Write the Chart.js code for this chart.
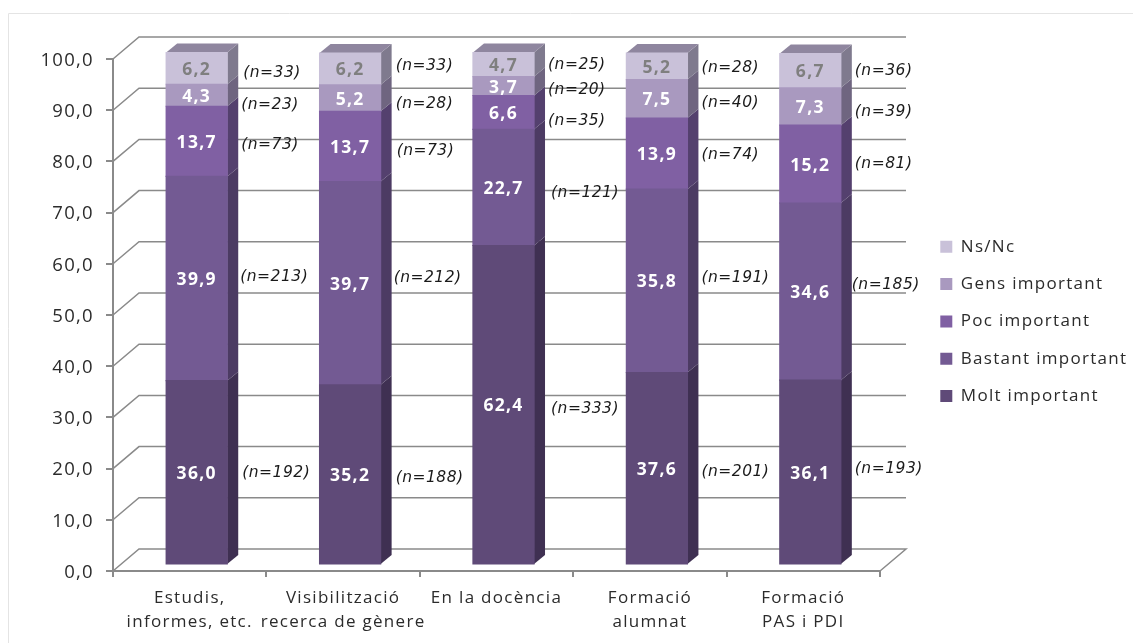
<!DOCTYPE html>
<html lang="ca">
<head>
<meta charset="utf-8">
<title>Importància per àmbit</title>
<script src="https://cdn.jsdelivr.net/npm/chart.js@4"></script>
<style>
  html, body { margin: 0; padding: 0; background: #fff; }
  #wrap { position: relative; width: 1133px; height: 643px; }
  canvas { display: block; }
</style>
</head>
<body>
<div id="wrap"><canvas id="chart" width="1133" height="643"></canvas></div>
<script>
// Response categories along the axis (line breaks as tick lines)
const categories = [
  ['Estudis,', 'informes, etc.'],
  ['Visibilització', 'recerca de gènere'],
  'En la docència',
  ['Formació', 'alumnat'],
  ['Formació', 'PAS i PDI']
];

// Percentages per answer
const moltImportant = [36.0, 35.2, 62.4, 37.6, 36.1];
const bastantImportant = [39.9, 39.7, 22.7, 35.8, 34.6];
const pocImportant = [13.7, 13.7, 6.6, 13.9, 15.2];
const gensImportant = [4.3, 5.2, 3.7, 7.5, 7.3];
const nsNc = [6.2, 6.2, 4.7, 5.2, 6.7];

// Respondent counts per answer
const nMolt = [192, 188, 333, 201, 193];
const nBastant = [213, 212, 121, 191, 185];
const nPoc = [73, 73, 35, 74, 81];
const nGens = [23, 28, 20, 40, 39];
const nNsNc = [33, 33, 25, 28, 36];

// Axis ticks
const yMin = 0;
const yMax = 100;
const yStep = 10;

// Hand placement of the (n=..) notes: shift from the segment's right edge / centre
const noteDx = [
  [15, 13, 14, 14, 16], [15, 13, 16, 15, 15], [17, 17, 14, 14, 14],
  [14, 14, 14, 14, 14], [14, 11, 14, 14, 14]
];
const noteDy = [
  [-1, -3, 2, 8, 3], [2, -7, 3, 4, -4], [3, 4, 7, 2, -1],
  [2, -4, 0, 3, 0], [-5, -8, -2, 4, -1]
];

// Series styling: front, side and value-label colours
const palette = [
  { front: '#5f4a78', side: '#3f3052', label: '#ffffff' },
  { front: '#735a93', side: '#4c3b63', label: '#ffffff' },
  { front: '#8060a3', side: '#54406e', label: '#ffffff' },
  { front: '#a999bf', side: '#6f6580', label: '#ffffff' },
  { front: '#c9c1d9', side: '#7f7a8e', label: '#7f7f7f' }
];
const topFace = '#8f869f';
const axisGrey = '#8a8a8a';
const textGrey = '#2b2b2b';

// Oblique projection: back wall shift and bar placement inside the depth
const wall = { dx: 26, dy: -22 };
const barShift = { dx: 7, dy: -6 };
const barDepth = { dx: 11, dy: -9 };

const BASE_FONT = '"Open Sans", sans-serif';
const TRACKING = '1.3px';

const seriesNames = ['Molt important', 'Bastant important', 'Poc important', 'Gens important', 'Ns/Nc'];
const seriesValues = [moltImportant, bastantImportant, pocImportant, gensImportant, nsNc];
const seriesCounts = [nMolt, nBastant, nPoc, nGens, nNsNc];

const frame3d = {
  id: 'frame3d',
  beforeUpdate(chart) { chart.ctx.letterSpacing = TRACKING; },
  beforeDraw(chart) {
    const { ctx, chartArea: a, scales: { y } } = chart;
    ctx.letterSpacing = TRACKING;
    ctx.save();
    // Outer chart frame, visible along the top and left only
    ctx.strokeStyle = '#e4e4e4';
    ctx.lineWidth = 1;
    ctx.beginPath();
    ctx.moveTo(8.5, 643);
    ctx.lineTo(8.5, 13.5);
    ctx.lineTo(1133, 13.5);
    ctx.stroke();
    // Side-wall diagonals and back-wall gridlines at each tick
    ctx.strokeStyle = axisGrey;
    ctx.lineWidth = 1.5;
    y.ticks.forEach(t => {
      const py = y.getPixelForValue(t.value);
      ctx.beginPath();
      ctx.moveTo(a.left, py);
      ctx.lineTo(a.left + wall.dx, py + wall.dy);
      ctx.lineTo(a.right + wall.dx, py + wall.dy);
      if (t.value === yMin) ctx.lineTo(a.right, py);
      ctx.stroke();
    });
    ctx.restore();
  },
  beforeDatasetsDraw(chart) {
    const { ctx } = chart;
    ctx.save();
    ctx.translate(barShift.dx, barShift.dy);
    // Side faces of each stacked segment, and the cap on the top one
    chart.data.datasets.forEach((ds, d) => {
      chart.getDatasetMeta(d).data.forEach(bar => {
        const r = bar.x + bar.width / 2;
        ctx.fillStyle = palette[d].side;
        ctx.beginPath();
        ctx.moveTo(r, bar.base);
        ctx.lineTo(r + barDepth.dx, bar.base + barDepth.dy);
        ctx.lineTo(r + barDepth.dx, bar.y + barDepth.dy);
        ctx.lineTo(r, bar.y);
        ctx.closePath();
        ctx.fill();
        if (d === chart.data.datasets.length - 1) {
          const l = bar.x - bar.width / 2;
          ctx.fillStyle = topFace;
          ctx.beginPath();
          ctx.moveTo(l, bar.y);
          ctx.lineTo(l + barDepth.dx, bar.y + barDepth.dy);
          ctx.lineTo(r + barDepth.dx, bar.y + barDepth.dy);
          ctx.lineTo(r, bar.y);
          ctx.closePath();
          ctx.fill();
        }
      });
    });
  },
  afterDatasetsDraw(chart) {
    const { ctx } = chart;
    // Value labels centred on each segment
    chart.data.datasets.forEach((ds, d) => {
      chart.getDatasetMeta(d).data.forEach((bar, i) => {
        ctx.font = 'bold 17.5px ' + BASE_FONT;
        ctx.textAlign = 'center';
        ctx.textBaseline = 'middle';
        ctx.fillStyle = palette[d].label;
        ctx.fillText(ds.data[i].toFixed(1).replace('.', ','), bar.x, (bar.y + bar.base) / 2 + 1.5);
      });
    });
    ctx.restore();
    // Respondent counts beside the bars, drawn over the gridlines
    ctx.save();
    ctx.translate(barShift.dx, barShift.dy);
    chart.data.datasets.forEach((ds, d) => {
      chart.getDatasetMeta(d).data.forEach((bar, i) => {
        ctx.font = 'italic 15.5px "DejaVu Sans", sans-serif';
        ctx.letterSpacing = '0.5px';
        ctx.textAlign = 'left';
        ctx.textBaseline = 'middle';
        ctx.fillStyle = '#1a1a1a';
        const cy = (bar.y + bar.base) / 2 + 1.5;
        ctx.fillText('(n=' + seriesCounts[d][i] + ')', bar.x + bar.width / 2 + noteDx[i][d], cy + noteDy[i][d]);
      });
    });
    ctx.restore();
    ctx.letterSpacing = TRACKING;
  },
  afterLayout(chart) {
    // Legend sits to the right of the depth, vertically centred on the plot
    const legend = chart.legend;
    const w = legend.width, h = legend.height;
    legend.left = 920;
    legend.right = 920 + w;
    legend.top = 218;
    legend.bottom = 218 + h;
  }
};

new Chart(document.getElementById('chart'), {
  type: 'bar',
  data: {
    labels: categories,
    datasets: seriesNames.map((name, d) => ({
      label: name,
      data: seriesValues[d],
      backgroundColor: palette[d].front,
      borderWidth: 0,
      inflateAmount: 0.6,
      stack: 'answers',
      clip: false
    }))
  },
  options: {
    responsive: false,
    animation: false,
    events: [],
    datasets: { bar: { categoryPercentage: 1, barPercentage: 0.398 } },
    layout: { padding: { top: 59, right: 253, bottom: 0, left: 0 } },
    scales: {
      x: {
        stacked: true,
        afterFit(scale) { scale.height = 72; },
        border: { color: axisGrey, width: 2 },
        grid: { drawOnChartArea: false, drawTicks: true, tickLength: 6, color: axisGrey, lineWidth: 2, offset: true },
        ticks: {
          color: textGrey,
          font: { family: BASE_FONT, size: 17, lineHeight: 1.41 },
          maxRotation: 0,
          autoSkip: false,
          padding: 9.5
        }
      },
      y: {
        stacked: true,
        min: yMin,
        max: yMax,
        afterFit(scale) { scale.width = 113; },
        border: { color: axisGrey, width: 2 },
        grid: { drawOnChartArea: false, drawTicks: true, tickLength: 7, color: axisGrey, lineWidth: 2 },
        ticks: {
          stepSize: yStep,
          color: textGrey,
          font: { family: BASE_FONT, size: 18.5 },
          padding: 12,
          labelOffset: 1.5,
          callback: v => v.toFixed(1).replace('.', ',')
        }
      }
    },
    plugins: {
      tooltip: { enabled: false },
      title: { display: false },
      legend: {
        position: 'chartArea',
        align: 'start',
        reverse: true,
        labels: {
          boxWidth: 12,
          boxHeight: 12,
          padding: 20.3,
          color: textGrey,
          font: { family: BASE_FONT, size: 17 }
        }
      }
    }
  },
  plugins: [frame3d]
});
</script>
</body>
</html>
